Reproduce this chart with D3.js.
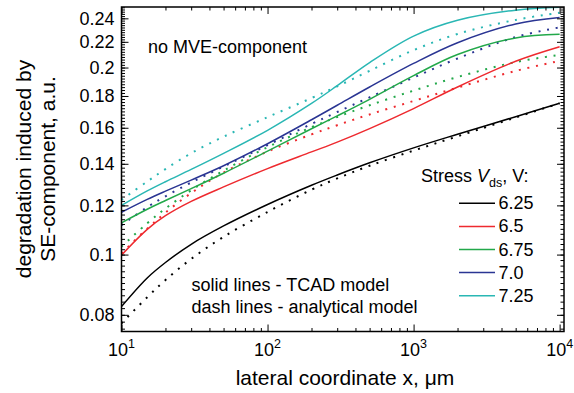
<!DOCTYPE html>
<html>
<head>
<meta charset="utf-8">
<script src="https://cdn.jsdelivr.net/npm/d3@7"></script>
<style>
  body { margin: 0; background: #fff; }
  svg text { font-family: "Liberation Sans", Arial, sans-serif; fill: #000; }
</style>
</head>
<body>
<svg id="chart" width="574" height="393"></svg>
<script>
// lateral coordinate x, um
const xs = [10, 15, 20, 30, 50, 100, 200, 300, 500, 1000, 2000, 5000, 10000];

// stress Vds labels and colours
const vdsLabels = ["6.25", "6.5", "6.75", "7.0", "7.25"];
const vdsColors = ["#000000", "#ee2a2f", "#22a84a", "#2a3593", "#2ab7b4"];

// solid lines - TCAD model
const tcad625 = [0.0825, 0.0917, 0.0971, 0.1039, 0.1112, 0.1204, 0.1293, 0.1343, 0.1405, 0.1485, 0.1562, 0.1667, 0.1752];
const tcad650 = [0.0998, 0.1098, 0.1155, 0.1218, 0.1285, 0.1375, 0.1463, 0.1517, 0.1595, 0.1718, 0.1861, 0.2047, 0.2160];
const tcad675 = [0.1125, 0.1183, 0.1222, 0.1277, 0.1352, 0.1467, 0.1594, 0.1672, 0.1778, 0.1941, 0.2099, 0.2232, 0.2262];
const tcad700 = [0.1170, 0.1227, 0.1265, 0.1318, 0.1390, 0.1508, 0.1648, 0.1739, 0.1861, 0.2031, 0.2193, 0.2351, 0.2408];
const tcad725 = [0.1200, 0.1266, 0.1310, 0.1371, 0.1455, 0.1585, 0.1751, 0.1870, 0.2037, 0.2247, 0.2383, 0.2474, 0.2500];

// dash lines - analytical model
const anal625 = [0.0775, 0.0854, 0.0910, 0.0984, 0.1068, 0.1171, 0.1272, 0.1326, 0.1390, 0.1470, 0.1550, 0.1662, 0.1752];
const anal650 = [0.1005, 0.1101, 0.1168, 0.1256, 0.1355, 0.1465, 0.1561, 0.1615, 0.1681, 0.1767, 0.1857, 0.1975, 0.2050];
const anal675 = [0.1030, 0.1123, 0.1186, 0.1269, 0.1365, 0.1489, 0.1603, 0.1665, 0.1739, 0.1836, 0.1931, 0.2041, 0.2095];
const anal700 = [0.1115, 0.1192, 0.1241, 0.1306, 0.1386, 0.1500, 0.1623, 0.1696, 0.1791, 0.1927, 0.2068, 0.2239, 0.2321];
const anal725 = [0.1225, 0.1311, 0.1373, 0.1456, 0.1548, 0.1664, 0.1786, 0.1865, 0.1976, 0.2133, 0.2265, 0.2386, 0.2451];

// ticks
const xMajor = [10, 100, 1000, 10000];
const xMajorExp = ["1", "2", "3", "4"];
const yMajor = [0.08, 0.10, 0.12, 0.14, 0.16, 0.18, 0.20, 0.22, 0.24];
const yMajorLabels = ["0.08", "0.1", "0.12", "0.14", "0.16", "0.18", "0.2", "0.22", "0.24"];

const tcadSeries = [tcad625, tcad650, tcad675, tcad700, tcad725];
const analSeries = [anal625, anal650, anal675, anal700, anal725];

let svg = d3.select("#chart");
let plot = {l: 121.5, r: 564, t: 7, b: 331.5};

let x = d3.scaleLog().domain([10, Math.pow(10, 4.03)]).range([plot.l, plot.r]);
let y = d3.scaleLog().domain([0.0752, 0.2503]).range([plot.b, plot.t]);

// minor ticks
let xMinor = [];
for (let d = 10; d <= 10000; d *= 10) {
    for (let k = 2; k <= 9; k++) {
        if (d * k <= x.domain()[1]) xMinor.push(d * k);
    }
}
let yMinor = d3.range(38, 126).map(i => i * 0.002).filter(v => v > 0.0752 && v < 0.2503);

// clip
svg.append("clipPath").attr("id", "clip")
    .append("rect")
    .attr("x", plot.l).attr("y", plot.t)
    .attr("width", plot.r - plot.l).attr("height", plot.b - plot.t);

let line = d3.line()
    .x((d, i) => x(xs[i]))
    .y(d => y(d))
    .curve(d3.curveCatmullRom.alpha(0.5));

let lines = svg.append("g").attr("clip-path", "url(#clip)");

// dotted lines first, solid on top
analSeries.forEach((s, i) => {
    lines.append("path")
        .attr("d", line(s))
        .attr("fill", "none")
        .attr("stroke", vdsColors[i])
        .attr("stroke-width", 2)
        .attr("stroke-dasharray", "2,6.7");
});
tcadSeries.forEach((s, i) => {
    lines.append("path")
        .attr("d", line(s))
        .attr("fill", "none")
        .attr("stroke", vdsColors[i])
        .attr("stroke-width", 1.5);
});

// axes - ticks point inward on all four sides
function styleAxis(g) {
    g.select(".domain").remove();
    g.selectAll(".tick line").attr("stroke", "#000").attr("stroke-width", 1);
}

let xAxis = svg.append("g")
    .attr("transform", `translate(0, ${plot.b})`)
    .call(d3.axisBottom(x).tickValues(xMajor).tickSize(-7).tickFormat(() => ""));
styleAxis(xAxis);
xAxis.selectAll(".tick text").remove();
svg.append("g")
    .attr("transform", `translate(0, ${plot.b})`)
    .call(d3.axisBottom(x).tickValues(xMinor).tickSize(-3.5).tickFormat(() => ""))
    .call(styleAxis);
svg.append("g")
    .attr("transform", `translate(0, ${plot.t})`)
    .call(d3.axisTop(x).tickValues(xMajor).tickSize(-7).tickFormat(() => ""))
    .call(styleAxis);
svg.append("g")
    .attr("transform", `translate(0, ${plot.t})`)
    .call(d3.axisTop(x).tickValues(xMinor).tickSize(-3.5).tickFormat(() => ""))
    .call(styleAxis);

let yAxis = svg.append("g")
    .attr("transform", `translate(${plot.l}, 0)`)
    .call(d3.axisLeft(y).tickValues(yMajor).tickSize(-7).tickPadding(7)
        .tickFormat((d, i) => yMajorLabels[i]));
styleAxis(yAxis);
yAxis.selectAll(".tick text")
    .attr("font-size", 18)
    .attr("font-family", null);
svg.append("g")
    .attr("transform", `translate(${plot.l}, 0)`)
    .call(d3.axisLeft(y).tickValues(yMinor).tickSize(-3.5).tickFormat(() => ""))
    .call(styleAxis);
svg.append("g")
    .attr("transform", `translate(${plot.r}, 0)`)
    .call(d3.axisRight(y).tickValues(yMajor).tickSize(-7).tickFormat(() => ""))
    .call(styleAxis);
svg.append("g")
    .attr("transform", `translate(${plot.r}, 0)`)
    .call(d3.axisRight(y).tickValues(yMinor).tickSize(-3.5).tickFormat(() => ""))
    .call(styleAxis);

// x tick labels as powers of ten
let xLab = svg.append("g").selectAll("text")
    .data(xMajor)
    .enter()
    .append("text")
    .attr("x", d => x(d))
    .attr("y", 356)
    .attr("text-anchor", "middle")
    .attr("font-size", 18)
    .text("10");
xLab.append("tspan")
    .attr("font-size", 12.5)
    .attr("dy", -8)
    .text((d, i) => xMajorExp[i]);

// frame
svg.append("rect")
    .attr("x", plot.l).attr("y", plot.t)
    .attr("width", plot.r - plot.l).attr("height", plot.b - plot.t)
    .attr("fill", "none")
    .attr("stroke", "#000")
    .attr("stroke-width", 1.5);

// axis titles
svg.append("text")
    .attr("x", 345).attr("y", 385)
    .attr("text-anchor", "middle")
    .attr("font-size", 21)
    .text("lateral coordinate x, \u03bcm");

let yTitle = ["degradation induced by", "SE-component, a.u."];
svg.selectAll(".ytitle")
    .data(yTitle)
    .enter()
    .append("text")
    .attr("class", "ytitle")
    .attr("transform", (d, i) => `translate(${31 + i * 24}, 169) rotate(-90)`)
    .attr("text-anchor", "middle")
    .attr("font-size", 21)
    .text(d => d);

// annotations
svg.append("text").attr("x", 148).attr("y", 53).attr("font-size", 18).text("no MVE-component");
svg.append("text").attr("x", 191.5).attr("y", 290.5).attr("font-size", 18).text("solid lines - TCAD model");
svg.append("text").attr("x", 191.5).attr("y", 312.5).attr("font-size", 18).text("dash lines - analytical model");

// legend
let legTitle = svg.append("text").attr("x", 421).attr("y", 181.5).attr("font-size", 18);
legTitle.append("tspan").text("Stress ");
legTitle.append("tspan").attr("font-style", "italic").text("V");
legTitle.append("tspan").attr("font-size", 12.5).attr("dy", 5).text("ds");
legTitle.append("tspan").attr("dy", -5).text(", V:");

let legend = svg.append("g").selectAll("g")
    .data(vdsLabels)
    .enter()
    .append("g")
    .attr("transform", (d, i) => `translate(0, ${209.3 + i * 23.1})`);
legend.append("line")
    .attr("x1", 459).attr("x2", 495)
    .attr("y1", -6).attr("y2", -6)
    .attr("stroke", (d, i) => vdsColors[i])
    .attr("stroke-width", 1.5);
legend.append("text")
    .attr("x", 498.5)
    .attr("font-size", 18)
    .text(d => d);
</script>
</body>
</html>
